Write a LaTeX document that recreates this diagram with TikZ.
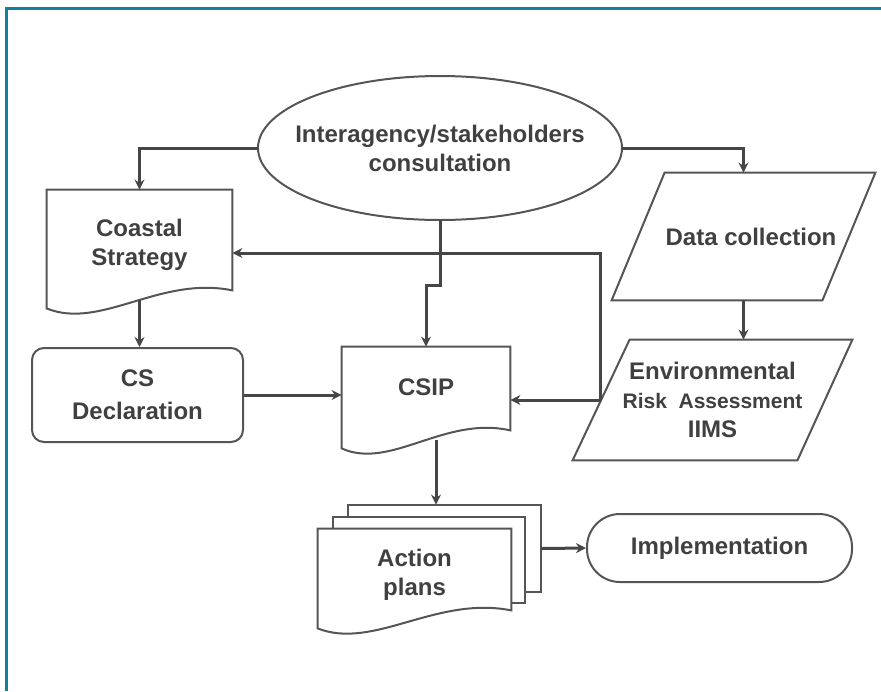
\documentclass[tikz,border=0pt]{standalone}
\usepackage{fontspec}
\setmainfont{Liberation Sans}
\usepackage{xcolor}
\usepackage{tikz}
\usetikzlibrary{arrows.meta,calc,backgrounds}

\definecolor{framecol}{RGB}{16,128,160}
\definecolor{linecol}{RGB}{85,85,85}
\definecolor{arrowcol}{RGB}{70,70,70}
\definecolor{textcol}{RGB}{64,64,64}

% document outline with a wavy bottom, drawn round a node
\newcommand{\docoutline}[2][]{%
  \draw[outline, #1] (#2.north west) -- (#2.north east)
    -- ([yshift=5pt]#2.south east)
    .. controls ($(#2.south west)!0.61!(#2.south east)+(0,-25)$)
    and ($(#2.south west)!0.29!(#2.south east)+(0,30)$)
    .. ([yshift=-4pt]#2.south west) -- cycle;}

\begin{document}
\begin{tikzpicture}[x=0.5pt, y=-0.5pt,
    >={Stealth[length=5pt, width=5pt]},
    outline/.style={draw=linecol, line width=1pt},
    conn/.style={->, draw=arrowcol, line width=1.5pt},
    box/.style={inner sep=0pt, text=textcol, align=center,
      font=\fontsize{12}{14.5}\selectfont\bfseries}]
    \useasboundingbox (0,0) rectangle (881,691);

    % frame
    \draw [framecol, line width=1.5pt] (6,691) -- (6,8) -- (881,8);

    % consultation
    \node[box, minimum width=182pt, minimum height=72pt] (consult) at (440,148)
      {Interagency/stakeholders\\consultation};
    \draw [outline] (consult.center) ellipse [x radius=91pt, y radius=36pt];

    % coastal strategy
    \node[box, minimum width=92.5pt, minimum height=55pt] (cstrat) at (139.5,245)
      {Coastal\\Strategy};
    \docoutline{cstrat}

    % CS declaration
    \node[box, outline, rounded corners=6pt, minimum width=105.5pt,
      minimum height=47pt] (csdecl) at (137.5,395) {CS\\[2pt]Declaration};

    % CSIP
    \node[box, minimum width=84pt, minimum height=46.5pt, text depth=6pt]
      (csip) at (426,393.5) {CSIP};
    \docoutline{csip}

    % data collection
    \node[box, minimum width=131.5pt, minimum height=63.5pt] (dcoll) at (743.5,236.5)
      {\hspace*{7.5pt}Data collection};
    \draw [outline] ([xshift=26.5pt]dcoll.north west) -- (dcoll.north east)
      -- ([xshift=-26.5pt]dcoll.south east) -- (dcoll.south west) -- cycle;

    % environmental risk assessment
    \node[box, minimum width=139.5pt, minimum height=60pt] (era) at (712.5,400)
      {Environmental\\{\fontsize{10.5}{14.5}\selectfont Risk\ \ Assessment}\\IIMS};
    \draw [outline] ([xshift=28.5pt]era.north west) -- (era.north east)
      -- ([xshift=-27.5pt]era.south east) -- (era.south west) -- cycle;
    \coordinate (eraw) at ($(era.west)+(28,0)$);

    % action plans
    \node[box, minimum width=96.5pt, minimum height=43.5pt] (aback) at (444.5,548.5) {};
    \node[box, minimum width=96pt, minimum height=43pt] (amid) at (429,560) {};
    \node[box, minimum width=96.5pt, minimum height=45.5pt] (aplan) at (414.5,574.5)
      {Action\\plans};
    \begin{pgfonlayer}{background}
      \draw [outline, fill=white] (aback.north west) rectangle (aback.south east);
      \draw [outline, fill=white] (amid.north west) rectangle (amid.south east);
      \docoutline[fill=white]{aplan}
    \end{pgfonlayer}

    % implementation
    \node[box, outline, rounded corners=16.5pt, minimum width=132.5pt,
      minimum height=34pt] (impl) at (719.5,548) {Implementation};

    % connectors
    \draw [conn] (consult.west) -| (cstrat.north);
    \draw [conn] (consult.east) -| (dcoll.north);
    \draw [conn] (consult.south) -- ++(0,65) -| (csip.north);
    \draw [conn] (cstrat.south) -- (cstrat.south |- csdecl.north);
    \draw [conn] (csdecl.east) -- (csdecl.east -| csip.west);
    \draw [conn] (eraw) -- (eraw -| csip.east);
    \draw [conn] (eraw) |- ([yshift=-4pt]cstrat.east);
    \draw [conn] (dcoll.south) -- (dcoll.south |- era.north);
    \draw [conn] ([xshift=5pt]csip.south) -- ([xshift=5pt]csip.south |- aback.north);
    \draw [conn] (aback.east) -- (impl.west);
  \end{tikzpicture}
\end{document}
